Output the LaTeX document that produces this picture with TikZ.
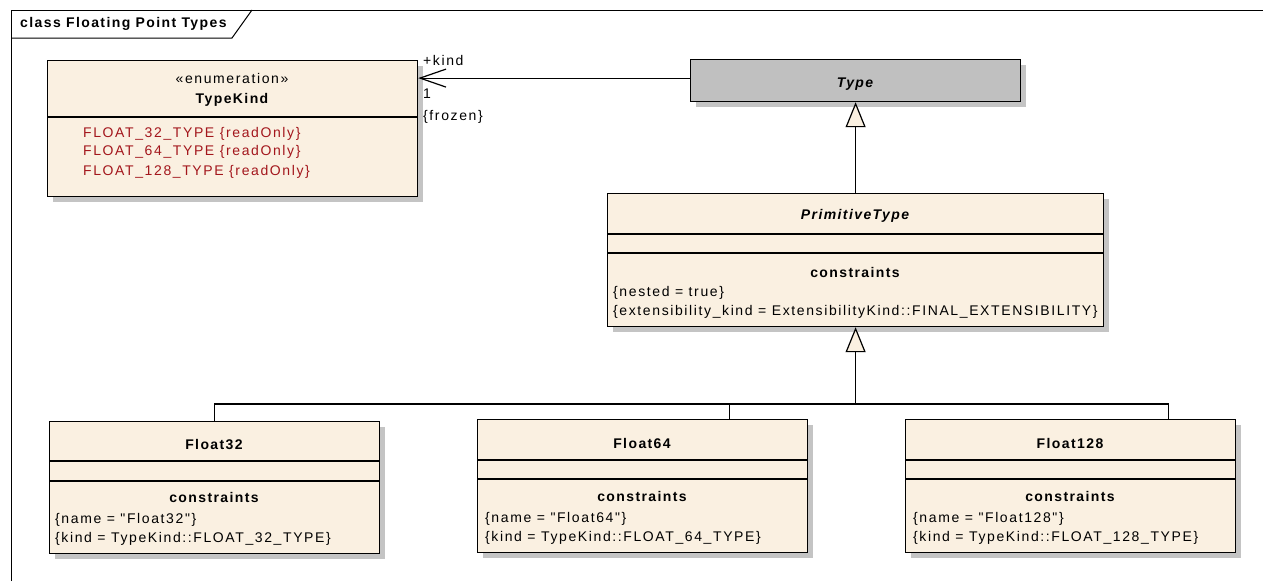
\documentclass[tikz,border=0pt]{standalone}
\usepackage{fontspec}
\setmainfont{Liberation Sans}
\newfontfamily\umlreg[LetterSpace=11.5]{Liberation Sans}
\newfontfamily\umlbf[LetterSpace=10]{Liberation Sans}
\usetikzlibrary{arrows.meta,shadows,calc}
\definecolor{cream}{HTML}{FAF0E1}
\definecolor{shade}{HTML}{C4C4C4}
\definecolor{typegray}{HTML}{C0C0C0}
\definecolor{attrred}{HTML}{A3161C}
\tikzset{
  classbox/.style={draw=black, line width=1.2pt, fill=cream, rectangle, anchor=north west, inner sep=0pt,
    drop shadow={shadow xshift=5pt, shadow yshift=-5pt, fill=shade, opacity=1}},
  divider/.style={draw=black, line width=1.2pt},
  conn/.style={draw=black, line width=1.2pt},
  gen/.style={conn, -{Triangle[length=25pt,width=20pt,fill=cream,line width=1.2pt]}},
  assoc/.style={conn, -{Straight Barb[length=26pt,width=18pt,line width=1.2pt]}},
  txt/.style={font=\umlreg\fontsize{14}{16}\selectfont, inner sep=0pt, anchor=base west},
  txtc/.style={font=\umlreg\fontsize{14}{16}\selectfont, inner sep=0pt, anchor=base},
  ttl/.style={font=\umlbf\bfseries\fontsize{14}{16}\selectfont, inner sep=0pt, anchor=base},
  ttli/.style={font=\umlbf\bfseries\itshape\fontsize{14}{16}\selectfont, inner sep=0pt, anchor=base},
  red/.style={txt, text=attrred},
}
\begin{document}
\begin{tikzpicture}[x=1pt,y=-1pt]
\useasboundingbox (0,0) rectangle (1263,581);
% frame
\draw[line width=1pt] (11,581) -- (11,10) -- (1263,10);
\draw[line width=1pt] (11,38) -- (232,38) -- (252,10);
\node[font=\umlbf\bfseries\fontsize{14}{16}\selectfont, inner sep=0pt, anchor=base west] (frametitle) at (20,27) {class Floating Point Types};

% classes
\node[classbox, minimum width=370pt, minimum height=136pt] (TypeKind) at (47,60) {};
\node[classbox, fill=typegray, minimum width=330pt, minimum height=42pt] (Type) at (690,59) {};
\node[classbox, minimum width=496pt, minimum height=133pt] (PrimitiveType) at (607,193) {};
\node[classbox, minimum width=330pt, minimum height=132pt] (Float32) at (49,421) {};
\node[classbox, minimum width=330pt, minimum height=133pt] (Float64) at (477,419) {};
\node[classbox, minimum width=330pt, minimum height=133pt] (Float128) at (905,419) {};

% dividers
\draw[divider] (TypeKind.west |- 0,117) -- (TypeKind.east |- 0,117);
\draw[divider] (PrimitiveType.west |- 0,234) -- (PrimitiveType.east |- 0,234);
\draw[divider] (PrimitiveType.west |- 0,253) -- (PrimitiveType.east |- 0,253);
\draw[divider] (Float32.west |- 0,461) -- (Float32.east |- 0,461);
\draw[divider] (Float32.west |- 0,481) -- (Float32.east |- 0,481);
\draw[divider] (Float64.west |- 0,460) -- (Float64.east |- 0,460);
\draw[divider] (Float64.west |- 0,479) -- (Float64.east |- 0,479);
\draw[divider] (Float128.west |- 0,460) -- (Float128.east |- 0,460);
\draw[divider] (Float128.west |- 0,479) -- (Float128.east |- 0,479);

% TypeKind texts
\node[txtc] (tkst) at (232,83) {«enumeration»};
\node[ttl] (tkname) at (232,103) {TypeKind};
\node[red] (tka1) at (83,137) {FLOAT\_32\_TYPE \{readOnly\}};
\node[red] (tka2) at (83,155) {FLOAT\_64\_TYPE \{readOnly\}};
\node[red] (tka3) at (83,175) {FLOAT\_128\_TYPE \{readOnly\}};

% Type
\node[ttli] (tyname) at (855,87) {Type};

% PrimitiveType
\node[ttli] (ptname) at (855,219) {PrimitiveType};
\node[ttl] (ptc) at (855,277) {constraints};
\node[txt] (ptc1) at (613,296) {\{nested = true\}};
\node[txt] (ptc2) at (613,315) {\{extensibility\_kind = ExtensibilityKind::FINAL\_EXTENSIBILITY\}};

% Float32
\node[ttl] (f32n) at (214,449) {Float32};
\node[ttl] (f32c) at (214,502) {constraints};
\node[txt] (f32a) at (55,523) {\{name = "Float32"\}};
\node[txt] (f32b) at (55,542) {\{kind = TypeKind::FLOAT\_32\_TYPE\}};

% Float64
\node[ttl] (f64n) at (642,448) {Float64};
\node[ttl] (f64c) at (642,501) {constraints};
\node[txt] (f64a) at (485,522) {\{name = "Float64"\}};
\node[txt] (f64b) at (485,541) {\{kind = TypeKind::FLOAT\_64\_TYPE\}};

% Float128
\node[ttl] (f128n) at (1070,448) {Float128};
\node[ttl] (f128c) at (1070,501) {constraints};
\node[txt] (f128a) at (913,522) {\{name = "Float128"\}};
\node[txt] (f128b) at (913,541) {\{kind = TypeKind::FLOAT\_128\_TYPE\}};

% association
\draw[assoc] ($(Type.west)+(0,-2.5)$) coordinate (asA) -- (TypeKind.east |- asA);
\node[txt] (lkind) at (423,65) {+kind};
\node[txt] (lmult) at (423,98) {1};
\node[txt] (lfrozen) at (423,120) {\{frozen\}};

% generalizations
\draw[gen] (PrimitiveType.north) -- (Type.south);
\coordinate (bar) at (PrimitiveType.south |- 0,404);
\draw[conn] (Float32.north) |- (bar);
\draw[conn] ($(Float64.north)+(87,0)$) |- (bar);
\draw[conn] ($(Float128.north)+(98,0)$) |- (bar);
\draw[gen] (bar) -- (PrimitiveType.south);
\end{tikzpicture}
\end{document}
